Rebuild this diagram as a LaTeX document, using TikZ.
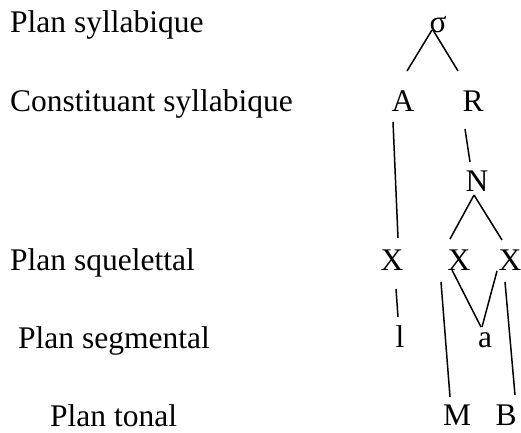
\documentclass[tikz,border=0pt]{standalone}
\usepackage{fontspec}
\setmainfont{Liberation Serif}
\usetikzlibrary{calc}
\begin{document}
\begin{tikzpicture}[x=1pt,y=-1pt,
  lab/.style={anchor=base west,inner sep=0pt,font=\fontsize{31.5}{38}\selectfont},
  sym/.style={anchor=base,inner sep=0pt,font=\fontsize{31.5}{38}\selectfont},
  ln/.style={line width=1.5pt}]
\useasboundingbox (0,0) rectangle (521,432);
% level labels
\node[lab] (p1) at (10,32) {Plan syllabique};
\node[lab] (p2) at (10,111) {Constituant syllabique};
\node[lab] (p3) at (10,270) {Plan squelettal};
\node[lab] (p4) at (18,348) {Plan segmental};
\node[lab] (p5) at (50,426) {Plan tonal};
% tree
\node[sym] (sig) at (438,32) {σ};
\node[sym] (A) at (403,111) {A};
\node[sym] (R) at (473,111) {R};
\node[sym] (N) at (477,191) {N};
\node[sym] (X1) at (392,270) {X};
\node[sym] (X2) at (459,270) {X};
\node[sym] (X3) at (510,270) {X};
\node[sym] (l) at (400,347) {l};
\node[sym] (a) at (485,347) {a};
\node[sym] (M) at (457,425) {M};
\node[sym] (B) at (506,425) {B};
% connectors
\draw[ln] ($(sig.base)+(-6,-2)$) -- ($(A.base)+(4,-40)$);
\draw[ln] ($(sig.base)+(-5,-2)$) -- ($(R.base)+(-15,-40)$);
\draw[ln] ($(A.base)+(-10,11)$) -- ($(X1.base)+(6,-32)$);
\draw[ln] ($(R.base)+(-8,18)$) -- ($(N.base)+(-7,-29)$);
\draw[ln] ($(N.base)+(-3,4)$) -- ($(X2.base)+(-9,-31)$);
\draw[ln] ($(N.base)+(-3,4)$) -- ($(X3.base)+(-8,-30)$);
\draw[ln] ($(X1.base)+(4,19)$) -- ($(l.base)+(-2,-30)$);
\draw[ln] ($(X2.base)+(-7,0)$) -- ($(a.base)+(-4,-20)$);
\draw[ln] ($(X3.base)+(-13,1)$) -- ($(a.base)+(-3,-20)$);
\draw[ln] ($(X2.base)+(-18,12)$) -- ($(M.base)+(-7,-28)$);
\draw[ln] ($(X3.base)+(-5,12)$) -- ($(B.base)+(9,-30)$);
\end{tikzpicture}
\end{document}
